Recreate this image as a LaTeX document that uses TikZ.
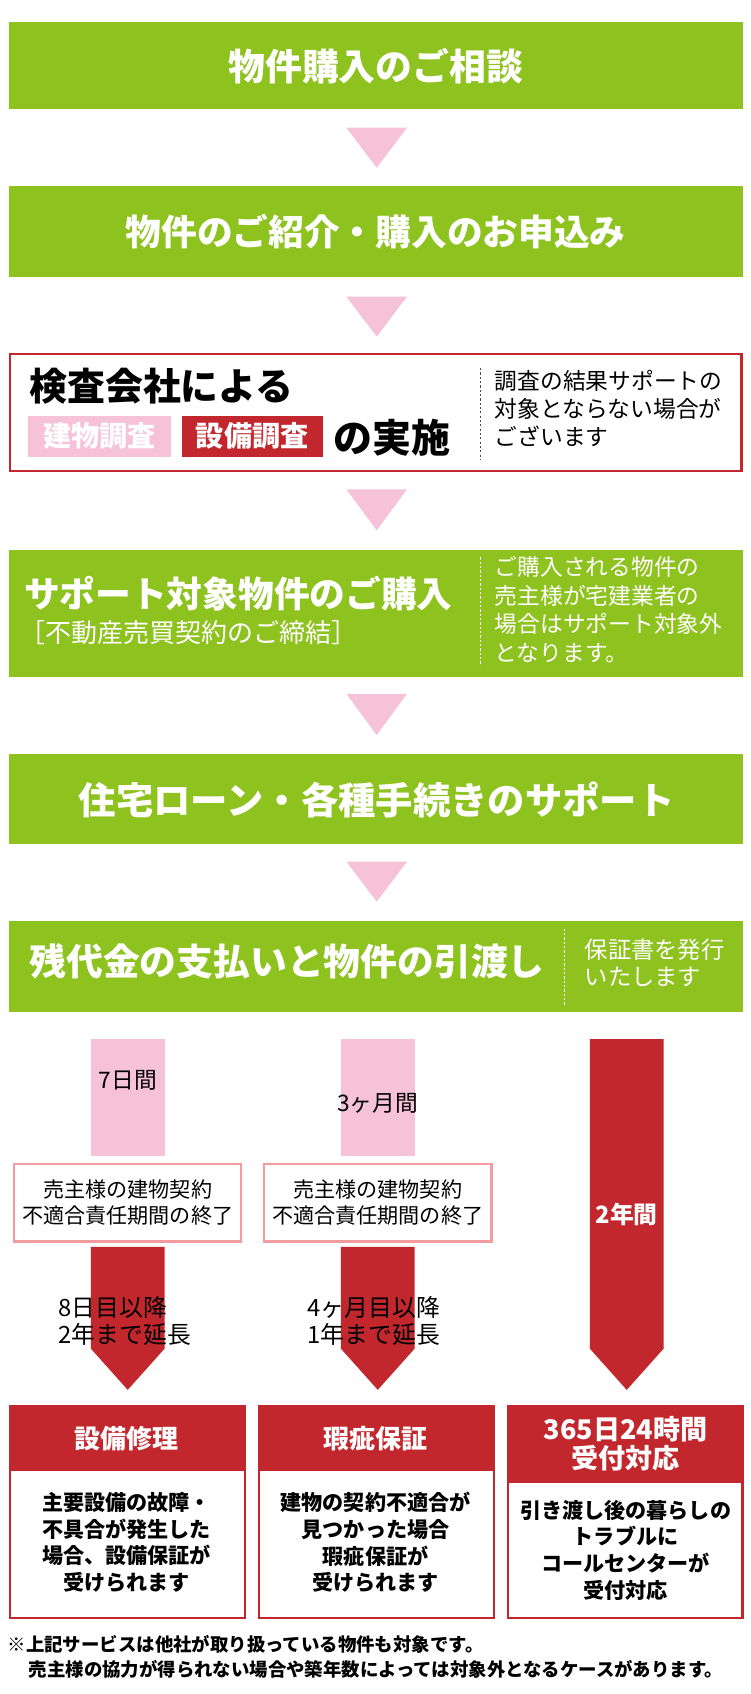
\documentclass[tikz,border=0pt]{standalone}
\usepackage{fontspec}
\setmainfont{Noto Sans CJK JP}
\definecolor{cgreen}{HTML}{8DC21F}
\definecolor{cred}{HTML}{C1272D}
\definecolor{cpink}{HTML}{F5C2D7}
\definecolor{csalmon}{HTML}{F29C9F}
\newcommand\jfs[2]{\fontsize{#1}{#2}\selectfont}
\begin{document}
\begin{tikzpicture}[x=1pt,y=-1pt,
  gbox/.style={fill=cgreen},
  wtxt/.style={text=white,font=\bfseries\jfs{#1}{#1}},
  btxt/.style={text=black,font=\bfseries\jfs{#1}{#1}},
  tri/.style={fill=cpink},
  sep/.style={dash pattern=on 2pt off 2pt,line width=0.8pt},
  body/.style={align=center,font=\bfseries\jfs{19.5}{24.6},text=black},
  lbl/.style={align=center,text=black},
]
\useasboundingbox (0,0) rectangle (693,1565);
\fill[white] (0,0) rectangle (693,1565);
% box 1
\fill[gbox] (8,20) rectangle (686,101);
\node[wtxt=34] (t1) at (347,61) {物件購入のご相談};
\fill[tri] (320,118) -- (376,118) -- (348,155) -- cycle;
% box 2
\fill[gbox] (8,172) rectangle (686,256);
\node[wtxt=33] (t2) at (347,214) {物件のご紹介・購入のお申込み};
\fill[tri] (320,274) -- (376,274) -- (348,311) -- cycle;
% box 3
\draw[cred,line width=2pt] (9,327) rectangle (685,435);
\node[btxt=35,anchor=west,inner sep=0] (t3) at (27,357) {検査会社による};
\node[fill=cpink,minimum width=132pt,minimum height=38pt,text=white,font=\bfseries\jfs{26}{26}] (p1) at (92,403) {建物調査};
\node[fill=cred,minimum width=130pt,minimum height=38pt,text=white,font=\bfseries\jfs{26}{26}] (p2) at (233,403) {設備調査};
\node[btxt=36,anchor=west,inner sep=0] (t3b) at (308,404) {の実施};
\draw[sep,black!70] (444,340) -- (444,425);
\node[anchor=north west,inner sep=0,align=left,font=\jfs{21}{26}] (n3) at (457,342) {調査の結果サポートの\\対象とならない場合が\\ございます};
\fill[tri] (320,452) -- (376,452) -- (348,490) -- cycle;
% box 4
\fill[gbox] (8,508) rectangle (686,625);
\node[wtxt=33,anchor=west,inner sep=0] (t4) at (22,548) {サポート対象物件のご購入};
\node[text=white,font=\jfs{24}{24},anchor=west,inner sep=0] (t4b) at (18,584) {［不動産売買契約のご締結］};
\draw[sep,white] (444,515) -- (444,615);
\node[anchor=north west,inner sep=0,align=left,text=white,font=\jfs{21}{26.3}] (n4) at (457,514) {ご購入される物件の\\売主様が宅建業者の\\場合はサポート対象外\\となります。};
\fill[tri] (320,641) -- (376,641) -- (348,679) -- cycle;
% box 5
\fill[gbox] (8,697) rectangle (686,780);
\node[wtxt=34.5] (t5) at (348,739) {住宅ローン・各種手続きのサポート};
\fill[tri] (320,796) -- (376,796) -- (348,833) -- cycle;
% box 6
\fill[gbox] (8,851) rectangle (686,935);
\node[wtxt=34,anchor=west,inner sep=0] (t6) at (27,888) {残代金の支払いと物件の引渡し};
\draw[sep,white] (521,858) -- (521,928);
\node[anchor=north west,inner sep=0,align=left,text=white,font=\jfs{21.5}{25}] (n6) at (540,867) {保証書を発行\\いたします};
% columns
\fill[cpink] (84,960) rectangle (152,1068);
\node[lbl,font=\jfs{21}{21}] (d1) at (118,998) {7日間};
\fill[cpink] (315,960) rectangle (383,1068);
\node[lbl,font=\jfs{21}{21}] (d2) at (349,1019) {3ヶ月間};
\draw[csalmon,line width=2pt] (13,1075) rectangle (223,1147);
\node[lbl,font=\jfs{19.5}{24}] (o1) at (118,1111) {売主様の建物契約\\不適合責任期間の終了};
\draw[csalmon,line width=2pt] (244,1075) rectangle (454,1147);
\node[lbl,font=\jfs{19.5}{24}] (o2) at (349,1111) {売主様の建物契約\\不適合責任期間の終了};
\fill[cred] (84,1152) -- (152,1152) -- (152,1246) -- (118,1284) -- (84,1246) -- cycle;
\node[anchor=west,inner sep=0,align=left,font=\jfs{22}{25}] (e1) at (54,1220) {8日目以降\\2年まで延長};
\fill[cred] (315,1152) -- (383,1152) -- (383,1246) -- (349,1284) -- (315,1246) -- cycle;
\node[anchor=west,inner sep=0,align=left,font=\jfs{22}{25}] (e2) at (284,1220) {4ヶ月目以降\\1年まで延長};
\fill[cred] (545,960) -- (613,960) -- (613,1246) -- (579,1284) -- (545,1246) -- cycle;
\node[text=white,font=\bfseries\jfs{22}{22}] (e3) at (579,1122) {2年間};
% bottom boxes
\fill[cred] (8,1298) rectangle (227,1496);
\fill[white] (10,1359) rectangle (225,1494);
\node[wtxt=24] (h1) at (117,1329) {設備修理};
\node[body] (b1) at (117,1425) {主要設備の故障・\\不具合が発生した\\場合、設備保証が\\受けられます};
\fill[cred] (238,1298) rectangle (457,1496);
\fill[white] (240,1359) rectangle (455,1494);
\node[wtxt=24] (h2) at (347,1329) {瑕疵保証};
\node[body] (b2) at (347,1425) {建物の契約不適合が\\見つかった場合\\瑕疵保証が\\受けられます};
\fill[cred] (468,1298) rectangle (687,1496);
\fill[white] (470,1370) rectangle (685,1494);
\node[text=white,align=center,font=\bfseries\jfs{25}{27}] (h3) at (578,1334) {365日24時間\\受付対応};
\node[body] (b3) at (578,1432) {引き渡し後の暮らしの\\トラブルに\\コールセンターが\\受付対応};
% footnote
\node[anchor=north west,inner sep=0,align=left,font=\bfseries\jfs{17}{23}] (fn) at (7,1511) {※上記サービスは他社が取り扱っている物件も対象です。\\\hspace*{1.15em}売主様の協力が得られない場合や築年数によっては対象外となるケースがあります。};
\end{tikzpicture}
\end{document}
